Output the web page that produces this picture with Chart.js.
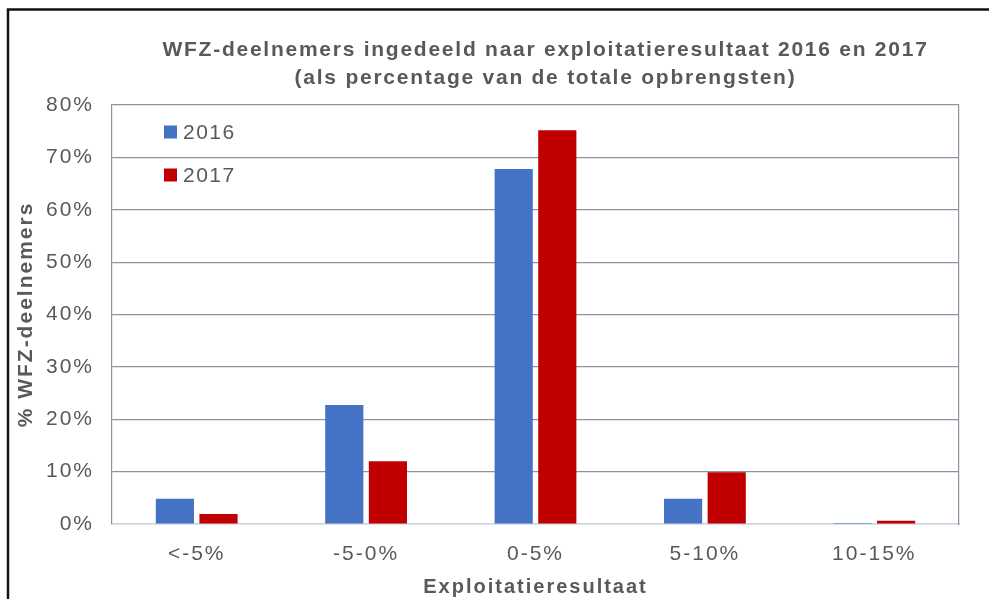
<!DOCTYPE html>
<html>
<head>
<meta charset="utf-8">
<title>WFZ-deelnemers ingedeeld naar exploitatieresultaat</title>
<script src="https://cdn.jsdelivr.net/npm/chart.js@4.4.1/dist/chart.umd.min.js"></script>
<style>
  body { margin: 0; background: #fff; }
  #wrap { width: 989px; height: 599px; }
</style>
</head>
<body>
<div id="wrap"><canvas id="chart" width="989" height="599"></canvas></div>
<script>
// Categories on the x axis
var categories = ["<-5%", "-5-0%", "0-5%", "5-10%", "10-15%"];
// Series (% of WFZ participants per class)
var years = ["2016", "2017"];
var values2016 = [4.8, 22.7, 67.8, 4.8, 0.2];
var values2017 = [1.9, 12.0, 75.2, 9.9, 0.6];
// Y axis tick values
var yTicks = [0, 10, 20, 30, 40, 50, 60, 70, 80];
// Texts
var titleLines = [
  "WFZ-deelnemers ingedeeld naar exploitatieresultaat 2016 en 2017",
  "(als percentage van de totale opbrengsten)"
];
var yTitle = "% WFZ-deelnemers";
var xTitle = "Exploitatieresultaat";

const COLORS = ["#4472C4", "#C00000"];
const TEXT = "#595959";
const GRID = "#8a93a3";
const BASE = "#c9d2de";
const FONT = "'Liberation Sans', Arial, sans-serif";

// The old image has wide letter spacing on all texts
var spacing = {
  id: "spacing",
  beforeLayout: function (chart) {
    chart.ctx.letterSpacing = "2px";
  },
  beforeDraw: function (chart) {
    chart.ctx.letterSpacing = "2px";
  }
};

// White background and the black frame round the picture
var frame = {
  id: "frame",
  beforeDraw: function (chart) {
    var ctx = chart.ctx;
    ctx.save();
    ctx.fillStyle = "#fff";
    ctx.fillRect(0, 0, chart.width, chart.height);
    ctx.strokeStyle = "#111";
    ctx.lineWidth = 2.5;
    ctx.strokeRect(8, 9.5, chart.width + 20, chart.height + 20);
    ctx.restore();
  }
};

// Title, centred a bit right of the plot centre like the original
var titleBlock = {
  id: "titleBlock",
  afterDraw: function (chart) {
    var ctx = chart.ctx;
    var area = chart.chartArea;
    var cx = (area.left + area.right) / 2 + 10;
    ctx.save();
    ctx.letterSpacing = "1.75px";
    ctx.font = "bold 21px " + FONT;
    ctx.fillStyle = TEXT;
    ctx.textAlign = "center";
    ctx.textBaseline = "middle";
    titleLines.forEach(function (t, i) {
      ctx.fillText(t, cx, area.top - 55 + i * 28);
    });
    ctx.restore();
  }
};

// Legend sits inside the plot area, top left
var innerLegend = {
  id: "innerLegend",
  afterDraw: function (chart) {
    var ctx = chart.ctx;
    var area = chart.chartArea;
    ctx.save();
    ctx.letterSpacing = "1.5px";
    ctx.font = "21px " + FONT;
    ctx.textBaseline = "middle";
    chart.data.datasets.forEach(function (ds, i) {
      var x = area.left + 52;
      var y = area.top + 27 + i * 43;
      ctx.fillStyle = ds.backgroundColor;
      ctx.fillRect(x, y - 6.5, 13, 13);
      ctx.fillStyle = TEXT;
      ctx.fillText(ds.label, x + 19, y + 1);
    });
    ctx.restore();
  }
};

var datasets = [values2016, values2017].map(function (vals, i) {
  return {
    label: years[i],
    data: vals,
    backgroundColor: COLORS[i],
    categoryPercentage: 0.515,
    barPercentage: 0.875
  };
});

new Chart(document.getElementById("chart"), {
  type: "bar",
  data: {
    labels: categories,
    datasets: datasets
  },
  plugins: [spacing, frame, titleBlock, innerLegend],
  options: {
    responsive: false,
    devicePixelRatio: 1,
    animation: false,
    layout: {
      padding: { left: 8, right: 30, top: 105, bottom: 0 }
    },
    plugins: {
      legend: { display: false },
      title: { display: false },
      tooltip: { enabled: false }
    },
    scales: {
      x: {
        grid: { display: false, drawTicks: false },
        border: { display: true, color: BASE, width: 1.5 },
        ticks: {
          color: TEXT,
          padding: 18,
          font: { size: 21, family: FONT }
        },
        title: {
          display: true,
          text: xTitle,
          color: TEXT,
          padding: { top: 0, bottom: 0 },
          font: { size: 20, weight: "bold", family: FONT }
        },
        afterFit: function (scale) {
          scale.height = 75;
        }
      },
      y: {
        min: 0,
        max: 80,
        afterBuildTicks: function (scale) {
          scale.ticks = yTicks.map(function (v) { return { value: v }; });
        },
        grid: {
          drawTicks: false,
          lineWidth: 1.2,
          color: function (c) {
            return c.tick && c.tick.value === 0 ? BASE : GRID;
          }
        },
        border: { color: GRID, width: 1.2 },
        ticks: {
          color: TEXT,
          padding: 18,
          font: { size: 21, family: FONT },
          callback: function (v) { return v + "%"; }
        },
        title: {
          display: true,
          text: yTitle,
          color: TEXT,
          padding: { top: 6, bottom: 0 },
          font: { size: 21, weight: "bold", family: FONT }
        },
        afterFit: function (scale) {
          scale.width = 104;
        }
      },
      yRight: {
        position: "right",
        min: 0,
        max: 80,
        grid: { drawOnChartArea: false, drawTicks: false },
        border: { color: GRID, width: 1.2 },
        ticks: { display: false },
        afterFit: function (scale) {
          scale.width = 0;
        }
      }
    }
  }
});
</script>
</body>
</html>
